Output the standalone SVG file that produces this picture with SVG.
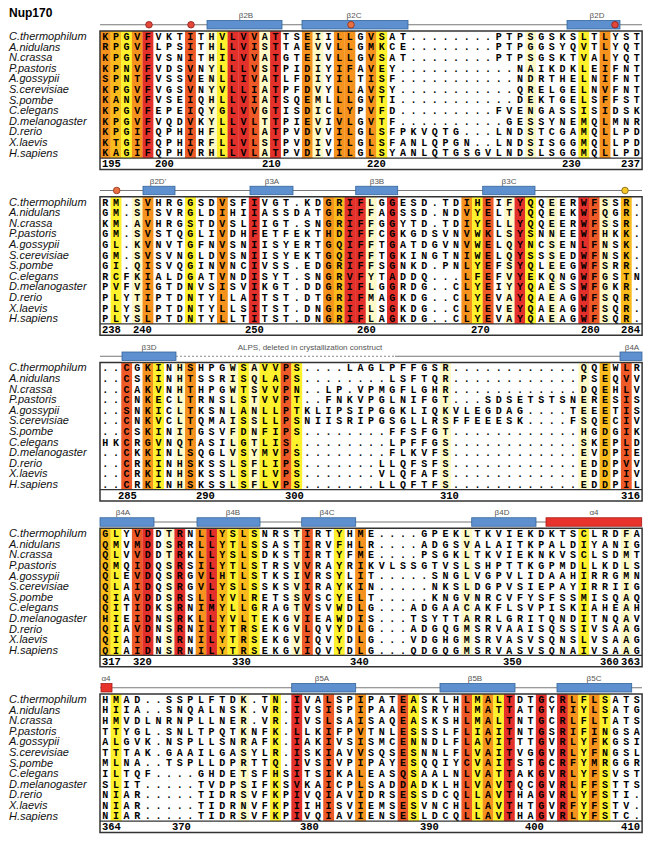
<svg xmlns="http://www.w3.org/2000/svg" width="650" height="843" viewBox="0 0 650 843">
<style>
.sp{font-family:"Liberation Sans",Arial,sans-serif;font-style:italic;font-size:11px;fill:#111}
.sq{font-family:"Liberation Mono","Courier New",monospace;font-weight:bold;font-size:10px;letter-spacing:4.63px;fill:#000}
.num{font-family:"Liberation Mono","Courier New",monospace;font-weight:bold;font-size:10.5px;fill:#000}
.ss{font-family:"Liberation Sans",Arial,sans-serif;font-size:8px;fill:#555;text-anchor:middle}
.frame{fill:none;stroke:#333;stroke-width:1.5}
.sep{stroke:#333;stroke-width:1.2}
.ln{stroke:#777;stroke-width:1;fill:none}
.dash{stroke:#888;stroke-width:1;stroke-dasharray:2,2;fill:none}
.b{fill:#5e90cf;stroke:#33659c;stroke-width:0.8}
.h{fill:#e8322c;stroke:#a81e19;stroke-width:0.8}
.cr{fill:#e2473a;stroke:#8c1d16;stroke-width:0.8}
.co{fill:#ea7040;stroke:#8c2d16;stroke-width:0.8}
.cy{fill:#f8c822;stroke:#7a5a10;stroke-width:0.8}
.R{fill:#e3302b}.O{fill:#ee5a27}.A{fill:#f6921e}.G{fill:#fbbb1c}.Y{fill:#fff22d}.L{fill:#fffac6}
</style>
<text x="9" y="17" style="font-family:'Liberation Sans',Arial,sans-serif;font-weight:bold;font-size:12px">Nup170</text>

<!-- ============ BLOCK 1 ============ -->
<g id="block1" transform="translate(0,31)">
 <g id="b1-cols" transform="translate(100,0) scale(10.63,1)">
  <rect class="A" x="0" width="1.02" height="127.2"/><rect class="G" x="1" width="1.02" height="127.2"/><rect class="Y" x="2" width="1.02" height="127.2"/><rect class="A" x="3" width="1.02" height="127.2"/><rect class="R" x="4" width="1.02" height="127.2"/>
  <rect class="O" x="8" width="1.02" height="127.2"/><rect class="L" x="10" width="1.02" height="127.2"/><rect class="Y" x="11" width="1.02" height="127.2"/><rect class="R" x="12" width="1.02" height="127.2"/><rect class="R" x="13" width="1.02" height="127.2"/><rect class="O" x="14" width="1.02" height="127.2"/><rect class="L" x="15" width="1.02" height="127.2"/><rect class="R" x="16" width="1.02" height="127.2"/>
  <rect class="A" x="19" width="1.02" height="127.2"/><rect class="L" x="20" width="1.02" height="127.2"/><rect class="A" x="22" width="1.02" height="127.2"/><rect class="A" x="23" width="1.02" height="127.2"/><rect class="A" x="25" width="1.02" height="127.2"/><rect class="Y" x="26" width="1.02" height="127.2"/>
  <rect class="L" x="40" width="1.02" height="127.2"/><rect class="Y" x="45" width="1.02" height="127.2"/><rect class="A" x="47" width="1.02" height="127.2"/>
 </g>
 <g id="b1-ss">
  <line class="ln" x1="100" y1="-6.25" x2="642" y2="-6.25"/>
  <circle class="cr" cx="149" cy="-6.25" r="3.3"/><circle class="cr" cx="191" cy="-6.25" r="3.3"/>
  <rect class="b" x="207" y="-10.5" width="75" height="8.5"/><text class="ss" x="246" y="-13">β2B</text>
  <rect class="b" x="302" y="-10.5" width="106" height="8.5"/><text class="ss" x="354" y="-13">β2C</text>
  <circle class="co" cx="351" cy="-6.25" r="3.3"/>
  <rect class="b" x="567" y="-10.5" width="53" height="8.5"/><text class="ss" x="597" y="-13">β2D</text>
  <circle class="cr" cx="615" cy="-6.25" r="3.3"/>
 </g>
 <g id="b1-names" class="sp">
  <text x="9" y="8.9">C.thermophilum</text><text x="9" y="19.5">A.nidulans</text><text x="9" y="30.1">N.crassa</text><text x="9" y="40.7">P.pastoris</text><text x="9" y="51.3">A.gossypii</text><text x="9" y="61.9">S.cerevisiae</text><text x="9" y="72.5">S.pombe</text><text x="9" y="83.1">C.elegans</text><text x="9" y="93.7">D.melanogaster</text><text x="9" y="104.3">D.rerio</text><text x="9" y="114.9">X.laevis</text><text x="9" y="125.5">H.sapiens</text>
 </g>
 <g id="b1-seq" class="sq">
  <text x="102.3" y="8.8">KPGVFVKTITHVLVVATTSEIILLGVSAT........PTPSGSKSLTLYST</text>
  <text x="102.3" y="19.4">RPGVFLPSITHLLVISTTAEVVLLGMKCE........PTPGGSYQVTLYQT</text>
  <text x="102.3" y="30">KPGVFVSNITHILVVATGTEIVLLGVSAT........PTPSGSKTVALYQT</text>
  <text x="102.3" y="40.6">KPNVFVDSVNYLLLVSTPIDIYIFAVEY...........NAIKDKLEIFNT</text>
  <text x="102.3" y="51.2">SPNTFVSSVENLLIVATLFDIYILTISF...........NDRTHELNIFNT</text>
  <text x="102.3" y="61.8">KPGVFVGSVNYVLLIATPFDVYLLAVSY...........QRELGELNVFNT</text>
  <text x="102.3" y="72.4">KANVFVSEIQHLLVIATSQEMLLLGVTI...........DEKTGELSFFST</text>
  <text x="102.3" y="83">KPGVFEPEIQYGLVVGTISDICLYPVFD.........FVENGASSISIDSK</text>
  <text x="102.3" y="93.6">KPGVFVQDVKYLLVLTTPIEVIVLGVTF..........GESSYNEMQLMNR</text>
  <text x="102.3" y="104.2">KPGIFQPHIHFLLVLATPVDVVILGLSFPKVQTG...LNDSTCGAMQLLPD</text>
  <text x="102.3" y="114.8">KTGIFQPHIRFLLVLSTPVDIVILGLSFANLQPGN..LNDSISGGMQLLPD</text>
  <text x="102.3" y="125.4">KAGIFQPHVRHLLVLATPVDIVILGLSYANLQTGSGVLNDSLSGGMQLLPD</text>
 </g>
 <g id="b1-frame">
  <rect class="frame" x="100" y="0" width="542.1" height="138.5"/>
  <line class="sep" x1="100" y1="127.2" x2="642.1" y2="127.2"/>
 </g>
 <g id="b1-num" class="num">
  <text x="102" y="136.3">195</text><text x="155" y="136.3">200</text><text x="262" y="136.3">210</text><text x="367" y="136.3">220</text><text x="562" y="136.3">230</text><text x="640" y="136.3" text-anchor="end">237</text>
 </g>
</g>

<!-- ============ BLOCK 2 ============ -->
<g id="block2" transform="translate(0,196.75)">
 <g id="b2-cols" transform="translate(100,0) scale(10.63,1)">
  <rect class="Y" x="1" width="1.02" height="127.2"/><rect class="L" x="3" width="1.02" height="127.2"/><rect class="A" x="4" width="1.02" height="127.2"/><rect class="Y" x="8" width="1.02" height="127.2"/><rect class="A" x="11" width="1.02" height="127.2"/><rect class="R" x="14" width="1.02" height="127.2"/>
  <rect class="A" x="21" width="1.02" height="127.2"/><rect class="G" x="22" width="1.02" height="127.2"/><rect class="R" x="23" width="1.02" height="127.2"/><rect class="R" x="24" width="1.02" height="127.2"/><rect class="L" x="25" width="1.02" height="127.2"/><rect class="R" x="27" width="1.02" height="127.2"/>
  <rect class="A" x="34" width="1.02" height="127.2"/><rect class="Y" x="35" width="1.02" height="127.2"/><rect class="O" x="36" width="1.02" height="127.2"/><rect class="L" x="38" width="1.02" height="127.2"/><rect class="R" x="39" width="1.02" height="127.2"/><rect class="Y" x="40" width="1.02" height="127.2"/><rect class="L" x="42" width="1.02" height="127.2"/>
  <rect class="R" x="45" width="1.02" height="127.2"/><rect class="O" x="46" width="1.02" height="127.2"/><rect class="L" x="47" width="1.02" height="127.2"/><rect class="G" x="49" width="1.02" height="127.2"/>
 </g>
 <g id="b2-ss">
  <line class="ln" x1="100" y1="-6.25" x2="642" y2="-6.25"/>
  <circle class="co" cx="116.7" cy="-6.25" r="3.3"/>
  <rect class="b" x="143" y="-10.5" width="32" height="8.5"/><text class="ss" x="158" y="-13">β2D'</text>
  <rect class="b" x="250" y="-10.5" width="43" height="8.5"/><text class="ss" x="272" y="-13">β3A</text>
  <rect class="b" x="355.7" y="-10.5" width="42" height="8.5"/><text class="ss" x="377" y="-13">β3B</text>
  <rect class="b" x="482.7" y="-10.5" width="52.3" height="8.5"/><text class="ss" x="509" y="-13">β3C</text>
  <circle class="cy" cx="625" cy="-6.25" r="3.3"/>
 </g>
 <g id="b2-names" class="sp">
  <text x="9" y="8.9">C.thermophilum</text><text x="9" y="19.5">A.nidulans</text><text x="9" y="30.1">N.crassa</text><text x="9" y="40.7">P.pastoris</text><text x="9" y="51.3">A.gossypii</text><text x="9" y="61.9">S.cerevisiae</text><text x="9" y="72.5">S.pombe</text><text x="9" y="83.1">C.elegans</text><text x="9" y="93.7">D.melanogaster</text><text x="9" y="104.3">D.rerio</text><text x="9" y="114.9">X.laevis</text><text x="9" y="125.5">H.sapiens</text>
 </g>
 <g id="b2-seq" class="sq">
  <text x="102.3" y="8.8">RM.SVHRGGSDVSFIVGT.KDGRIFLGGESD.TDIHEIFYQQEERWFSSR.</text>
  <text x="102.3" y="19.4">GM.STSVRGLDIHIIASSDATGRIFFAGSSD.NDVYELTYQQEEKWFQGR.</text>
  <text x="102.3" y="30">KM.AVHRGSTDVSLIIGT.SNGRIFFGGYTD.TDIYELLYQQEERWFSSR.</text>
  <text x="102.3" y="40.6">GM.SVSTQGLIVDHFETFEKTHDIFFCGKGDSVNVWKLSYSNNEEWFHKK.</text>
  <text x="102.3" y="51.2">GL.KVNVTGFNVSNIISYERTGQIFFTGATDGVNVWELQYNCSENLFNSK.</text>
  <text x="102.3" y="61.8">GM.SVSVNGLDVSNIISYEKTGQIFFTGKINGTNIWELQYSSSEDWFNSK.</text>
  <text x="102.3" y="72.4">GI.QISVQGINVNCIVSS.EDGRIFFSGNKD.PNLYEFSYQLEEGWFSRR.</text>
  <text x="102.3" y="83">RCFKIALDGATVNDISYT.SNGRVFYTADDQ...LFEFVYEKQNGWFGSTN</text>
  <text x="102.3" y="93.6">PVFVIGTDNVSISVIKGT.DDGRIFLGGRDG..CLYEIYYQAESSWFGKR.</text>
  <text x="102.3" y="104.2">PLYTIPTDNTYLLAITST.DTGRIFMAGKDG..CLYEVAYQAEAGWFSQR.</text>
  <text x="102.3" y="114.8">PLYSLPTDNTYLLSITST.DNGRIFLSGKDG..CLYEVEYQAEAGWFSQR.</text>
  <text x="102.3" y="125.4">PLYSLPTDNTYLLTITST.DNGRIFLAGKDG..CLYEVAYQAEAGWFSQR.</text>
 </g>
 <g id="b2-frame">
  <rect class="frame" x="100" y="0" width="542.1" height="138.5"/>
  <line class="sep" x1="100" y1="127.2" x2="642.1" y2="127.2"/>
 </g>
 <g id="b2-num" class="num">
  <text x="102" y="136.3">238</text><text x="133" y="136.3">240</text><text x="245" y="136.3">250</text><text x="357" y="136.3">260</text><text x="471" y="136.3">270</text><text x="581" y="136.3">280</text><text x="640" y="136.3" text-anchor="end">284</text>
 </g>
</g>

<!-- ============ BLOCK 3 ============ -->
<g id="block3" transform="translate(0,362.5)">
 <g id="b3-cols" transform="translate(100,0) scale(10.63,1)">
  <rect class="O" x="2" width="1.02" height="127.2"/><rect class="A" x="4" width="1.02" height="127.2"/><rect class="Y" x="5" width="1.02" height="127.2"/><rect class="L" x="7" width="1.02" height="127.2"/><rect class="A" x="8" width="1.02" height="127.2"/>
  <rect class="L" x="12" width="1.02" height="127.2"/><rect class="Y" x="13" width="1.02" height="127.2"/><rect class="L" x="14" width="1.02" height="127.2"/><rect class="Y" x="15" width="1.02" height="127.2"/><rect class="Y" x="16" width="1.02" height="127.2"/><rect class="O" x="17" width="1.02" height="127.2"/><rect class="Y" x="18" width="1.02" height="127.2"/>
  <rect class="L" x="32" width="1.02" height="127.2"/><rect class="L" x="45" width="1.02" height="127.2"/><rect class="G" x="47" width="1.02" height="127.2"/><rect class="O" x="49" width="1.02" height="127.2"/>
 </g>
 <g id="b3-ss">
  <line class="ln" x1="100" y1="-6.25" x2="122" y2="-6.25"/>
  <rect class="b" x="122" y="-10.5" width="54" height="8.5"/><text class="ss" x="149" y="-13">β3D</text>
  <line class="dash" x1="176" y1="-6.25" x2="395" y2="-6.25"/>
  <line class="ln" x1="395" y1="-6.25" x2="620" y2="-6.25"/>
  <text class="ss" x="310" y="-13">ALPS, deleted in crystallization construct</text>
  <rect class="b" x="620" y="-10.5" width="22" height="8.5"/><text class="ss" x="632" y="-13">β4A</text>
 </g>
 <g id="b3-names" class="sp">
  <text x="9" y="8.9">C.thermophilum</text><text x="9" y="19.5">A.nidulans</text><text x="9" y="30.1">N.crassa</text><text x="9" y="40.7">P.pastoris</text><text x="9" y="51.3">A.gossypii</text><text x="9" y="61.9">S.cerevisiae</text><text x="9" y="72.5">S.pombe</text><text x="9" y="83.1">C.elegans</text><text x="9" y="93.7">D.melanogaster</text><text x="9" y="104.3">D.rerio</text><text x="9" y="114.9">X.laevis</text><text x="9" y="125.5">H.sapiens</text>
 </g>
 <g id="b3-seq" class="sq">
  <text x="102.3" y="8.8">..CGKINHSHPGWSAVVPS....LAGLPFFGSR............QQEWLR</text>
  <text x="102.3" y="19.4">..CSKINHTSSRISQLAPS........LSFTQR............PSEQVV</text>
  <text x="102.3" y="30">..CAKVNHTHPGWTSVVPN..LP.VPMGFLGHR............DQEHLV</text>
  <text x="102.3" y="40.6">..CNKECLTRNSLSTVVPT..FNKVPGLNIFGT...SDSETSTSNERESIS</text>
  <text x="102.3" y="51.2">..SNKICLTKSNLANLLPTKLIPSIPGGKLIQKVLEGDAG....TEEETIS</text>
  <text x="102.3" y="61.8">..CNKVCLTQMAISSLLPSNIISRIPGSGLLRSFFEEESK....FSQECIV</text>
  <text x="102.3" y="72.4">..CSKINITGSVFDNFIPS........FFSFGT............HGDGIK</text>
  <text x="102.3" y="83">HKCRGVNQTASILGTLIS.........LPFFGS............SKEPLD</text>
  <text x="102.3" y="93.6">..CKKINLSQGLVSYMVPS........FLKVFS............EVDPIE</text>
  <text x="102.3" y="104.2">..CRKINHSKSSLSFLIPS.......LLQFSFS............EDDPVV</text>
  <text x="102.3" y="114.8">..CRKINHSKSSLSFLVPS.......VLQFAFS............EDDPIV</text>
  <text x="102.3" y="125.4">..CRKINHSKSSLSFLVPS.......LLQFTFS............EDDPIL</text>
 </g>
 <g id="b3-frame">
  <rect class="frame" x="100" y="0" width="542.1" height="138.5"/>
  <line class="sep" x1="100" y1="127.2" x2="642.1" y2="127.2"/>
 </g>
 <g id="b3-num" class="num">
  <text x="118" y="136.3">285</text><text x="196" y="136.3">290</text><text x="285" y="136.3">300</text><text x="440" y="136.3">310</text><text x="640" y="136.3" text-anchor="end">316</text>
 </g>
</g>

<!-- ============ BLOCK 4 ============ -->
<g id="block4" transform="translate(0,528.25)">
 <g id="b4-cols" transform="translate(100,0) scale(10.63,1)">
  <rect class="G" x="0" width="1.02" height="127.2"/><rect class="Y" x="1" width="1.02" height="127.2"/><rect class="O" x="3" width="1.02" height="127.2"/><rect class="R" x="4" width="1.02" height="127.2"/><rect class="L" x="6" width="1.02" height="127.2"/><rect class="R" x="7" width="1.02" height="127.2"/>
  <rect class="A" x="9" width="1.02" height="127.2"/><rect class="R" x="10" width="1.02" height="127.2"/><rect class="G" x="11" width="1.02" height="127.2"/><rect class="Y" x="12" width="1.02" height="127.2"/><rect class="G" x="13" width="1.02" height="127.2"/><rect class="Y" x="14" width="1.02" height="127.2"/>
  <rect class="L" x="18" width="1.02" height="127.2"/><rect class="O" x="19" width="1.02" height="127.2"/><rect class="Y" x="22" width="1.02" height="127.2"/><rect class="A" x="24" width="1.02" height="127.2"/>
  <rect class="L" x="34" width="1.02" height="127.2"/><rect class="Y" x="45" width="1.02" height="127.2"/><rect class="L" x="49" width="1.02" height="127.2"/>
 </g>
 <g id="b4-ss">
  <line class="ln" x1="100" y1="-6.25" x2="642" y2="-6.25"/>
  <rect class="b" x="100" y="-10.5" width="54" height="8.5"/><text class="ss" x="123" y="-13">β4A</text>
  <rect class="b" x="197" y="-10.5" width="63" height="8.5"/><text class="ss" x="233" y="-13">β4B</text>
  <rect class="b" x="301.7" y="-10.5" width="54" height="8.5"/><text class="ss" x="327" y="-13">β4C</text>
  <rect class="b" x="471.7" y="-10.5" width="64.3" height="8.5"/><text class="ss" x="502" y="-13">β4D</text>
  <rect class="h" x="546" y="-10.5" width="95.7" height="8.5"/><text class="ss" x="594" y="-13">α4</text>
 </g>
 <g id="b4-names" class="sp">
  <text x="9" y="8.9">C.thermophilum</text><text x="9" y="19.5">A.nidulans</text><text x="9" y="30.1">N.crassa</text><text x="9" y="40.7">P.pastoris</text><text x="9" y="51.3">A.gossypii</text><text x="9" y="61.9">S.cerevisiae</text><text x="9" y="72.5">S.pombe</text><text x="9" y="83.1">C.elegans</text><text x="9" y="93.7">D.melanogaster</text><text x="9" y="104.3">D.rerio</text><text x="9" y="114.9">X.laevis</text><text x="9" y="125.5">H.sapiens</text>
 </g>
 <g id="b4-seq" class="sq">
  <text x="102.3" y="8.8">GLYVDDTRNLLYSLSNRSTIRTYHME....GPEKLTKVIEKDKTSCLRDFA</text>
  <text x="102.3" y="19.4">QMVMDDSRRLLYTLSSASTIRVFHLR....ADGSVALAITKPALDIYANIG</text>
  <text x="102.3" y="30">QLVVDDTRKLLYSLSDKSTIRTYFME....PSGKLTKVIEKNKVSCLSDMT</text>
  <text x="102.3" y="40.6">QMQIDQSRSILYTLSTRSVVRAYRIKVLSSGTVSLSHPTTKGPMDLLKDLS</text>
  <text x="102.3" y="51.2">QLEVDQSRGVLHTLSTKSIVRSYLIT.....SNGLVGPVLIDAAHIRRGMN</text>
  <text x="102.3" y="61.8">QLAIDQSRGVLYSLSSKSVIRAYKIN.....NKSLDGPVSIEPAYIRRIIG</text>
  <text x="102.3" y="72.4">QIAVDDSRSLLYVLRETSSVSCYELT.....KNGVNRCVFYSFSSMISQAQ</text>
  <text x="102.3" y="83">QITIDKSRNIMYLLGRAGTVSVWDLG...ADGAACAKFLSVPISKIAHEAH</text>
  <text x="102.3" y="93.6">HIEIDNSRKLLYVLTEKGVIEAWDIS...TSYTTARRLGRITQNDITNQAV</text>
  <text x="102.3" y="104.2">QIAVDNSRNILYTRSEKGVLQVYDLG...ADGQGMSRVAAISQSSIVSAAG</text>
  <text x="102.3" y="114.8">QIAIDNSRNILYTRSEKGVIQVYDLG...VDGHGMSRVASVSQNSLVSAAG</text>
  <text x="102.3" y="125.4">QIAIDNSRNILYTRSEKGVIQVYDLG...QDGQGMSRVASVSQNAIVSAAG</text>
 </g>
 <g id="b4-frame">
  <rect class="frame" x="100" y="0" width="542.1" height="138.5"/>
  <line class="sep" x1="100" y1="127.2" x2="642.1" y2="127.2"/>
 </g>
 <g id="b4-num" class="num">
  <text x="102" y="136.3">317</text><text x="133" y="136.3">320</text><text x="232" y="136.3">330</text><text x="350" y="136.3">340</text><text x="503" y="136.3">350</text><text x="600" y="136.3">360</text><text x="640" y="136.3" text-anchor="end">363</text>
 </g>
</g>

<!-- ============ BLOCK 5 ============ -->
<g id="block5" transform="translate(0,694)">
 <g id="b5-cols" transform="translate(100,0) scale(10.63,1)">
  <rect class="Y" x="1" width="1.02" height="127.2"/><rect class="L" x="13" width="1.02" height="127.2"/><rect class="Y" x="16" width="1.02" height="127.2"/><rect class="R" x="18" width="1.02" height="127.2"/>
  <rect class="O" x="21" width="1.02" height="127.2"/><rect class="A" x="24" width="1.02" height="127.2"/><rect class="O" x="28" width="1.02" height="127.2"/><rect class="Y" x="29" width="1.02" height="127.2"/>
  <rect class="O" x="34" width="1.02" height="127.2"/><rect class="Y" x="35" width="1.02" height="127.2"/><rect class="A" x="36" width="1.02" height="127.2"/><rect class="Y" x="37" width="1.02" height="127.2"/><rect class="R" x="38" width="1.02" height="127.2"/>
  <rect class="R" x="41" width="1.02" height="127.2"/><rect class="R" x="43" width="1.02" height="127.2"/><rect class="A" x="44" width="1.02" height="127.2"/><rect class="Y" x="45" width="1.02" height="127.2"/><rect class="A" x="46" width="1.02" height="127.2"/><rect class="Y" x="47" width="1.02" height="127.2"/>
 </g>
 <g id="b5-ss">
  <line class="ln" x1="100" y1="-6.25" x2="642" y2="-6.25"/>
  <rect class="h" x="101" y="-10.5" width="11" height="8.5"/><text class="ss" x="106" y="-13">α4</text>
  <rect class="b" x="291.7" y="-10.5" width="64" height="8.5"/><text class="ss" x="322" y="-13">β5A</text>
  <rect class="b" x="440" y="-10.5" width="75" height="8.5"/><text class="ss" x="475" y="-13">β5B</text>
  <rect class="b" x="557" y="-10.5" width="74.7" height="8.5"/><text class="ss" x="594" y="-13">β5C</text>
 </g>
 <g id="b5-names" class="sp">
  <text x="9" y="8.9">C.thermophilum</text><text x="9" y="19.5">A.nidulans</text><text x="9" y="30.1">N.crassa</text><text x="9" y="40.7">P.pastoris</text><text x="9" y="51.3">A.gossypii</text><text x="9" y="61.9">S.cerevisiae</text><text x="9" y="72.5">S.pombe</text><text x="9" y="83.1">C.elegans</text><text x="9" y="93.7">D.melanogaster</text><text x="9" y="104.3">D.rerio</text><text x="9" y="114.9">X.laevis</text><text x="9" y="125.5">H.sapiens</text>
 </g>
 <g id="b5-seq" class="sq">
  <text x="102.3" y="8.8">HMAD..SSPLFTDK.TN.IVALSPIPATEASKLHLMALTDTGCRLFLSATS</text>
  <text x="102.3" y="19.4">HIIA..SNQALNSK.VR.IVSISPIPAAEASRYHLMATTATGYRIYLSATG</text>
  <text x="102.3" y="30">HMVDLNRNPLLNER.VR.IVSLSAISAQEASKSHLMALTNTGCRLFLTATS</text>
  <text x="102.3" y="40.6">TTYGL.SNLTPQTKNFK.LLKIFPVTNLESSSLFLIAITNTGSRIFINGSA</text>
  <text x="102.3" y="51.2">ALGVK.NSPLLSNRAFK.IAKIVSISMCENNDLFLAVITTTGVRLYFKGSI</text>
  <text x="102.3" y="61.8">TTTAK.GAAILGASYLR.ISKIAVVSQSESNNLFLVAITVGGVRLYFNGSL</text>
  <text x="102.3" y="72.4">MLNA..TSPLLDPRTTQ.IVSIVPIPAYESQQIYCVAITSTGCRFYMRGGR</text>
  <text x="102.3" y="83">ILTQF....GHDETSFHSITSIKALEASQSAALNLVATTAKGVRLYFSVST</text>
  <text x="102.3" y="93.6">SLIT.....TVDPSIFKSVKAICPLSADDADKLHLVAVTQCGVRLFFSTTS</text>
  <text x="102.3" y="104.2">NIAR.....TIDRSVFKPIVQIAVIDRSESSDCQLLAVTHAGVRLYFSTI.</text>
  <text x="102.3" y="114.8">NIAR.....TIDRNVFKPIIHISVIEMSESVNCHLLAVTHTGVRFYFSTV.</text>
  <text x="102.3" y="125.4">NIAR.....TIDRSVFKPIVQIAVIENSESLDCQLLAVTHAGVRLYFSTC.</text>
 </g>
 <g id="b5-frame">
  <rect class="frame" x="100" y="0" width="542.1" height="138.5"/>
  <line class="sep" x1="100" y1="127.2" x2="642.1" y2="127.2"/>
 </g>
 <g id="b5-num" class="num">
  <text x="102" y="136.3">364</text><text x="172" y="136.3">370</text><text x="300" y="136.3">380</text><text x="420" y="136.3">390</text><text x="525" y="136.3">400</text><text x="640" y="136.3" text-anchor="end">410</text>
 </g>
</g>
</svg>
